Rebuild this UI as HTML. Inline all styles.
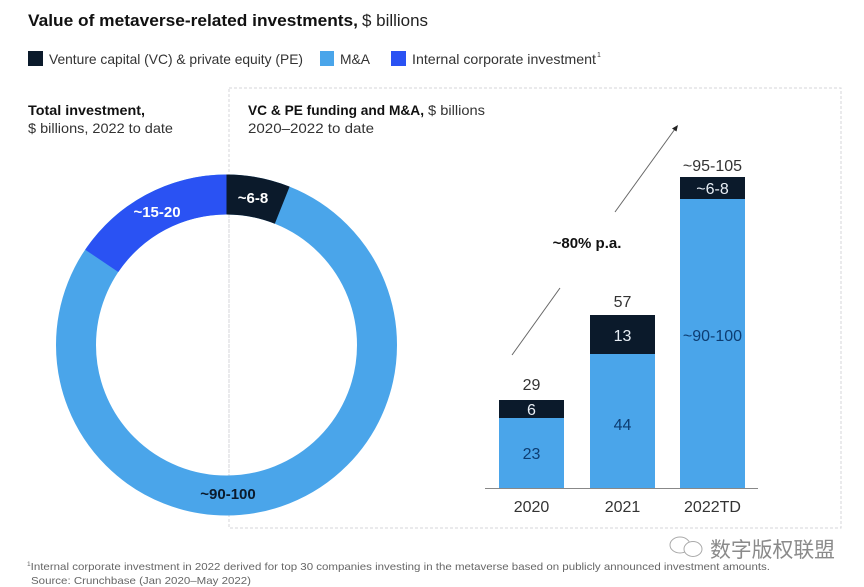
<!DOCTYPE html>
<html>
<head>
<meta charset="utf-8">
<style>
  html,body{margin:0;padding:0;background:#fff;}
  body{width:864px;height:587px;overflow:hidden;}
  svg{display:block;}
  text{font-family:"Liberation Sans","Noto Sans CJK SC",sans-serif;}
</style>
</head>
<body>
<svg width="864" height="587" viewBox="0 0 864 587" xmlns="http://www.w3.org/2000/svg">
  <!-- Title -->
  <text x="28" y="26" font-size="17" font-weight="bold" fill="#111" textLength="330" lengthAdjust="spacingAndGlyphs">Value of metaverse-related investments,</text>
  <text x="362" y="26" font-size="17" fill="#222" textLength="66" lengthAdjust="spacingAndGlyphs">$ billions</text>

  <!-- Legend -->
  <rect x="28" y="51" width="15" height="15" fill="#0b1a2b"/>
  <text x="49" y="64" font-size="14" fill="#333" textLength="254" lengthAdjust="spacingAndGlyphs">Venture capital (VC) &amp; private equity (PE)</text>
  <rect x="320" y="51" width="14" height="15" fill="#4aa5ea"/>
  <text x="340" y="64" font-size="14" fill="#333" textLength="30" lengthAdjust="spacingAndGlyphs">M&amp;A</text>
  <rect x="391" y="51" width="15" height="15" fill="#2a52f3"/>
  <text x="412" y="64" font-size="14" fill="#333" textLength="184" lengthAdjust="spacingAndGlyphs">Internal corporate investment</text>
  <text x="597" y="57" font-size="7" fill="#333">1</text>

  <!-- Left subtitle -->
  <text x="28" y="115" font-size="14" font-weight="bold" fill="#111" textLength="117" lengthAdjust="spacingAndGlyphs">Total investment,</text>
  <text x="28" y="133" font-size="14" fill="#333" textLength="145" lengthAdjust="spacingAndGlyphs">$ billions, 2022 to date</text>

  <!-- Right subtitle -->
  <text x="248" y="115" font-size="14" font-weight="bold" fill="#111" textLength="176" lengthAdjust="spacingAndGlyphs">VC &amp; PE funding and M&amp;A,</text>
  <text x="428" y="115" font-size="14" fill="#333" textLength="57" lengthAdjust="spacingAndGlyphs">$ billions</text>
  <text x="248" y="133" font-size="14" fill="#333" textLength="126" lengthAdjust="spacingAndGlyphs">2020–2022 to date</text>

  <!-- Dashed box -->
  <path d="M229 88 H841 V528 H229 Z" fill="none" stroke="#d4d6da" stroke-width="1" stroke-dasharray="3 2"/>

  <!-- Donut -->
  <circle cx="226.5" cy="345" r="150.5" fill="none" stroke="#4aa5ea" stroke-width="40"/>
  <path d="M226.5 174.5 A170.5 170.5 0 0 1 289.6 186.6 L274.8 223.8 A130.5 130.5 0 0 0 226.5 214.5 Z" fill="#0b1a2b"/>
  <path d="M85.2 249.7 A170.5 170.5 0 0 1 226.5 174.5 L226.5 214.5 A130.5 130.5 0 0 0 118.3 272.0 Z" fill="#2a52f3"/>
  <line x1="229" y1="215" x2="229" y2="475" stroke="#d4d6da" stroke-width="1" stroke-dasharray="3 2"/>

  <text x="253" y="203" font-size="15" font-weight="bold" fill="#fff" text-anchor="middle">~6-8</text>
  <text x="157" y="217" font-size="15" font-weight="bold" fill="#fff" text-anchor="middle">~15-20</text>
  <text x="228" y="499" font-size="15" font-weight="bold" fill="#0b1a2b" text-anchor="middle">~90-100</text>

  <!-- Bars -->
  <rect x="499" y="418" width="65" height="70" fill="#4aa5ea"/>
  <rect x="499" y="400" width="65" height="18" fill="#0b1a2b"/>
  <rect x="590" y="354" width="65" height="134" fill="#4aa5ea"/>
  <rect x="590" y="315" width="65" height="39" fill="#0b1a2b"/>
  <rect x="680" y="199" width="65" height="289" fill="#4aa5ea"/>
  <rect x="680" y="177" width="65" height="22" fill="#0b1a2b"/>
  <line x1="485" y1="488.5" x2="758" y2="488.5" stroke="#888" stroke-width="1"/>

  <!-- Bar labels -->
  <g font-size="16" text-anchor="middle">
    <text x="531.5" y="390" fill="#333">29</text>
    <text x="531.5" y="415" fill="#e8eef5">6</text>
    <text x="531.5" y="459" fill="#0d3d72">23</text>
    <text x="622.5" y="307" fill="#333">57</text>
    <text x="622.5" y="341" fill="#e8eef5">13</text>
    <text x="622.5" y="430" fill="#0d3d72">44</text>
    <text x="712.5" y="171" fill="#333">~95-105</text>
    <text x="712.5" y="194" fill="#e8eef5">~6-8</text>
    <text x="712.5" y="341" fill="#0d3d72">~90-100</text>
    <text x="531.5" y="512" fill="#333">2020</text>
    <text x="622.5" y="512" fill="#333">2021</text>
    <text x="712.5" y="512" fill="#333">2022TD</text>
  </g>

  <!-- growth arrow -->
  <line x1="512" y1="355" x2="560" y2="288" stroke="#666" stroke-width="1"/>
  <line x1="615" y1="212" x2="675" y2="129" stroke="#666" stroke-width="1"/>
  <polygon points="678,125 672,128.5 676.5,131.5" fill="#222"/>
  <text x="587" y="248" font-size="15" font-weight="bold" fill="#111" text-anchor="middle">~80% p.a.</text>

  <!-- Watermark -->
  <g stroke="#aaa" stroke-width="1" fill="#fff">
    <ellipse cx="680" cy="545" rx="10" ry="8"/>
    <ellipse cx="693" cy="549" rx="9" ry="7.5"/>
  </g>
  <text x="710" y="557" font-size="21" fill="#8a8a8a" textLength="125" lengthAdjust="spacingAndGlyphs" font-family="'Noto Sans CJK SC',sans-serif">数字版权联盟</text>

  <!-- Footnotes -->
  <text x="27" y="570" font-size="10.5" fill="#666" textLength="743" lengthAdjust="spacingAndGlyphs"><tspan font-size="6" dy="-4">1</tspan><tspan dy="4">Internal corporate investment in 2022 derived for top 30 companies investing in the metaverse based on publicly announced investment amounts.</tspan></text>
  <text x="31" y="584" font-size="10.5" fill="#666" textLength="220" lengthAdjust="spacingAndGlyphs">Source: Crunchbase (Jan 2020–May 2022)</text>
</svg>
</body>
</html>
